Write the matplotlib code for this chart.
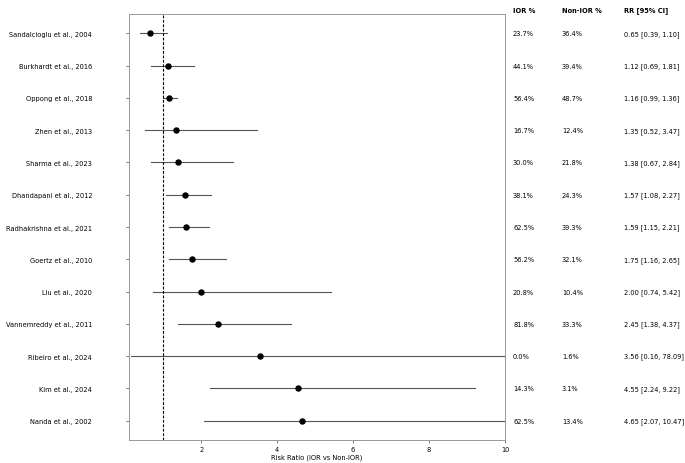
import numpy as np
import matplotlib.pyplot as plt
from matplotlib.transforms import blended_transform_factory

studies = ['Sandalcioglu et al., 2004', 'Burkhardt et al., 2016', 'Oppong et al., 2018',
           'Zhen et al., 2013', 'Sharma et al., 2023', 'Dhandapani et al., 2012',
           'Radhakrishna et al., 2021', 'Goertz et al., 2010', 'Liu et al., 2020',
           'Vannemreddy et al., 2011', 'Ribeiro et al., 2024', 'Kim et al., 2024',
           'Nanda et al., 2002']
rr = [0.65, 1.12, 1.16, 1.35, 1.38, 1.57, 1.59, 1.75, 2.00, 2.45, 3.56, 4.55, 4.65]
lo = [0.39, 0.69, 0.99, 0.52, 0.67, 1.08, 1.15, 1.16, 0.74, 1.38, 0.16, 2.24, 2.07]
hi = [1.10, 1.81, 1.36, 3.47, 2.84, 2.27, 2.21, 2.65, 5.42, 4.37, 78.09, 9.22, 10.47]
ior = ['23.7%', '44.1%', '56.4%', '16.7%', '30.0%', '38.1%', '62.5%', '56.2%', '20.8%',
       '81.8%', '0.0%', '14.3%', '62.5%']
non_ior = ['36.4%', '39.4%', '48.7%', '12.4%', '21.8%', '24.3%', '39.3%', '32.1%', '10.4%',
           '33.3%', '1.6%', '3.1%', '13.4%']

fs = 4.8

fig = plt.figure(figsize=(6.85, 4.64), dpi=100)
ax = fig.add_axes([129/685, 23/464, 376/685, 426/464])

n = len(studies)
y = np.arange(n)[::-1]

for i in range(n):
    ax.plot([lo[i], hi[i]], [y[i], y[i]], color='#555555', lw=0.8, zorder=1)
ax.scatter(rr, y, color='black', s=13, zorder=2)
ax.axvline(1, color='black', ls=(0, (2.5, 1.5)), lw=0.8)

ax.set_xlim(0.1, 10)
ax.set_ylim(-0.6, n - 0.4)
ax.set_xticks([2, 4, 6, 8, 10])
ax.set_yticks(y)
ax.set_yticklabels(studies)
ax.tick_params(axis='y', pad=24, labelsize=fs, length=2.5, width=0.6, color='#666666')
ax.tick_params(axis='x', labelsize=fs, length=2.5, width=0.6, pad=2, color='#666666')
ax.set_xlabel('Risk Ratio (IOR vs Non-IOR)', fontsize=fs, labelpad=1)
for s in ax.spines.values():
    s.set_color('#999999')
    s.set_linewidth(0.7)

# table on the right
tr = blended_transform_factory(fig.transFigure, ax.transData)
ci_txt = ['%.2f [%.2f, %.2f]' % (rr[i], lo[i], hi[i]) for i in range(n)]
cols = [(513/685, 'IOR %', ior), (562/685, 'Non-IOR %', non_ior),
        (624/685, 'RR [95% CI]', ci_txt)]
for xc, head, vals in cols:
    fig.text(xc, 1 - 11/464, head, fontsize=fs, fontweight='bold', va='center', ha='left')
    for i in range(n):
        ax.text(xc, y[i], vals[i], transform=tr, fontsize=fs, va='center', ha='left')

plt.savefig('out.png', dpi=100)
